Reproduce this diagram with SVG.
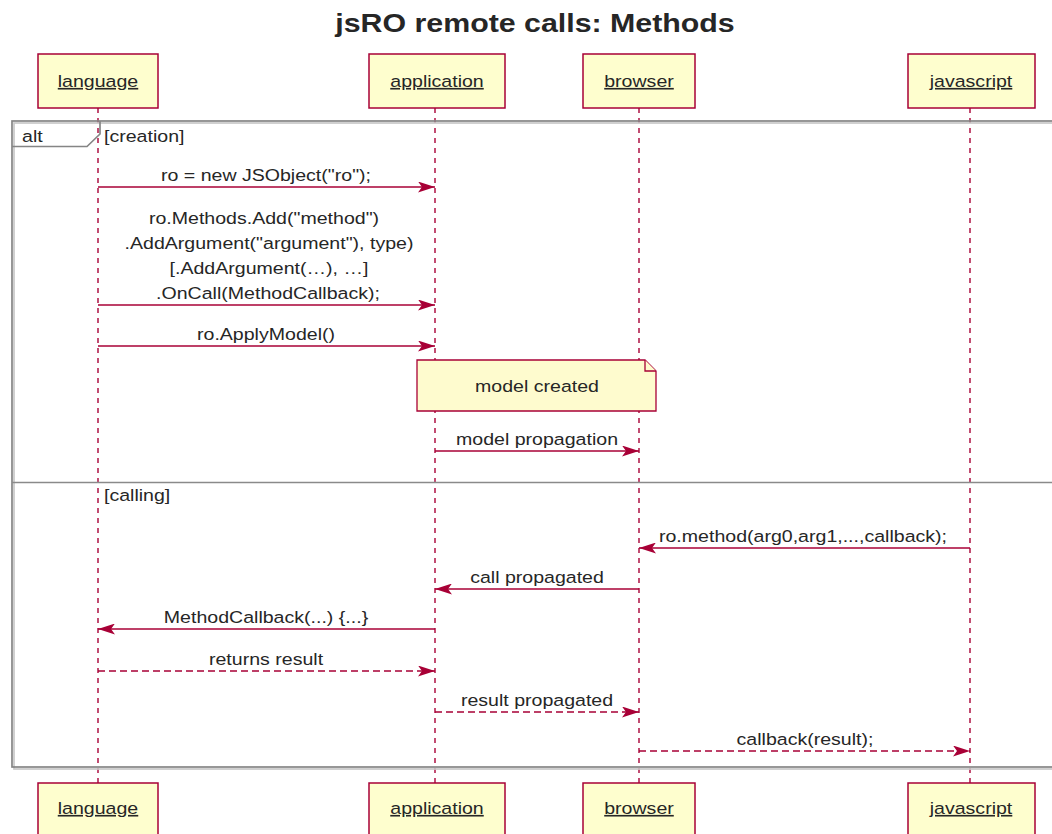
<svg xmlns="http://www.w3.org/2000/svg" width="1052" height="834" viewBox="0 0 1052 834">
  <style>
    text { font-family: "Liberation Sans", Arial, sans-serif; fill: #262626; }
    .title { font-size: 25.5px; font-weight: bold; text-anchor: middle; }
    .pname { font-size: 16.3px; text-anchor: middle; text-decoration: underline; }
    .msg { font-size: 16.3px; text-anchor: middle; }
    .lbl { font-size: 16.3px; }
    .pbox { fill: #FEFECE; stroke: #A80036; stroke-width: 1.5; }
    .life { stroke: #A80036; stroke-width: 1.4; stroke-dasharray: 5 5; fill: none; }
    .sync { stroke: #A80036; stroke-width: 1.4; fill: none; }
    .reply { stroke: #A80036; stroke-width: 1.4; stroke-dasharray: 7 4; fill: none; }
    .frame { fill: none; stroke: #858585; stroke-width: 1.7; }
    .frameShadow { fill: none; stroke: #c8c8c8; stroke-width: 1.7; }
    .sep { stroke: #8a8a8a; stroke-width: 1.3; }
    .note { fill: #FEFBCE; stroke: #A80036; stroke-width: 1.3; }
  </style>
  <defs>
    <marker id="head" viewBox="0 0 17 11" refX="17" refY="5.5" markerWidth="17" markerHeight="11" markerUnits="userSpaceOnUse" orient="auto">
      <path d="M0,0 L17,5.5 L0,11 L4,5.5 Z" fill="#A80036"/>
    </marker>
  </defs>

  <rect width="1052" height="834" fill="#ffffff"/>

  <text class="title" transform="translate(535 31.5) scale(1.19 1)">jsRO remote calls: Methods</text>

  <!-- lifelines -->
  <g id="lifelines">
    <line class="life" x1="98" y1="108" x2="98" y2="783"/>
    <line class="life" x1="435" y1="108" x2="435" y2="783"/>
    <line class="life" x1="639" y1="108" x2="639" y2="783"/>
    <line class="life" x1="970" y1="108" x2="970" y2="783"/>
  </g>

  <!-- alt frame -->
  <g id="alt-frame">
    <rect class="frameShadow" x="14" y="123" width="1100" height="646"/>
    <rect class="frame" x="12" y="121" width="1100" height="646"/>
    <path class="frame" d="M12,146.5 L87,146.5 L100,134 L100,121"/>
    <text class="lbl" transform="translate(22 141.5) scale(1.2 1)">alt</text>
    <text class="lbl" transform="translate(104 141.5) scale(1.2 1)">[creation]</text>
    <line class="sep" x1="12" y1="482.5" x2="1052" y2="482.5"/>
    <text class="lbl" transform="translate(104 501) scale(1.2 1)">[calling]</text>
  </g>

  <!-- participants (top) -->
  <g id="language-top">
    <rect class="pbox" x="38" y="54" width="120" height="54"/>
    <text class="pname" transform="translate(98 87) scale(1.2 1)">language</text>
  </g>
  <g id="application-top">
    <rect class="pbox" x="369" y="54" width="136" height="54"/>
    <text class="pname" transform="translate(437 87) scale(1.2 1)">application</text>
  </g>
  <g id="browser-top">
    <rect class="pbox" x="583" y="54" width="112" height="54"/>
    <text class="pname" transform="translate(639 87) scale(1.2 1)">browser</text>
  </g>
  <g id="javascript-top">
    <rect class="pbox" x="908" y="54" width="127" height="54"/>
    <text class="pname" transform="translate(971 87) scale(1.2 1)">javascript</text>
  </g>

  <!-- participants (bottom) -->
  <g id="language-bottom">
    <rect class="pbox" x="38" y="783" width="120" height="60"/>
    <text class="pname" transform="translate(98 814) scale(1.2 1)">language</text>
  </g>
  <g id="application-bottom">
    <rect class="pbox" x="369" y="783" width="136" height="60"/>
    <text class="pname" transform="translate(437 814) scale(1.2 1)">application</text>
  </g>
  <g id="browser-bottom">
    <rect class="pbox" x="583" y="783" width="112" height="60"/>
    <text class="pname" transform="translate(639 814) scale(1.2 1)">browser</text>
  </g>
  <g id="javascript-bottom">
    <rect class="pbox" x="908" y="783" width="127" height="60"/>
    <text class="pname" transform="translate(971 814) scale(1.2 1)">javascript</text>
  </g>

  <!-- note -->
  <g id="note-model-created">
    <path class="note" d="M417,360 L645,360 L656,371 L656,411 L417,411 Z"/>
    <path class="note" d="M645,360 L645,371 L656,371"/>
    <text class="msg" transform="translate(537 392) scale(1.2 1)">model created</text>
  </g>

  <!-- messages -->
  <g id="connectors">
    <line class="sync" x1="98" y1="187" x2="435" y2="187" marker-end="url(#head)"/>
    <text class="msg" transform="translate(266 181) scale(1.2 1)">ro = new JSObject("ro");</text>

    <line class="sync" x1="98" y1="305" x2="435" y2="305" marker-end="url(#head)"/>
    <text class="msg" transform="translate(264 224) scale(1.2 1)">ro.Methods.Add("method")</text>
    <text class="msg" transform="translate(269 249) scale(1.2 1)">.AddArgument("argument"), type)</text>
    <text class="msg" transform="translate(269 274) scale(1.2 1)">[.AddArgument(…), …]</text>
    <text class="msg" transform="translate(268 299) scale(1.2 1)">.OnCall(MethodCallback);</text>

    <line class="sync" x1="98" y1="346" x2="435" y2="346" marker-end="url(#head)"/>
    <text class="msg" transform="translate(266 340) scale(1.2 1)">ro.ApplyModel()</text>

    <line class="sync" x1="435" y1="451" x2="639" y2="451" marker-end="url(#head)"/>
    <text class="msg" transform="translate(537 445) scale(1.2 1)">model propagation</text>

    <line class="sync" x1="970" y1="548" x2="639" y2="548" marker-end="url(#head)"/>
    <text class="msg" transform="translate(803 542) scale(1.2 1)">ro.method(arg0,arg1,...,callback);</text>

    <line class="sync" x1="639" y1="589" x2="435" y2="589" marker-end="url(#head)"/>
    <text class="msg" transform="translate(537 583) scale(1.2 1)">call propagated</text>

    <line class="sync" x1="435" y1="629" x2="98" y2="629" marker-end="url(#head)"/>
    <text class="msg" transform="translate(266 623) scale(1.2 1)">MethodCallback(...) {...}</text>

    <line class="reply" x1="98" y1="671" x2="435" y2="671" marker-end="url(#head)"/>
    <text class="msg" transform="translate(266 665) scale(1.2 1)">returns result</text>

    <line class="reply" x1="435" y1="712" x2="639" y2="712" marker-end="url(#head)"/>
    <text class="msg" transform="translate(537 706) scale(1.2 1)">result propagated</text>

    <line class="reply" x1="639" y1="751" x2="970" y2="751" marker-end="url(#head)"/>
    <text class="msg" transform="translate(805 745) scale(1.2 1)">callback(result);</text>
  </g>
</svg>
